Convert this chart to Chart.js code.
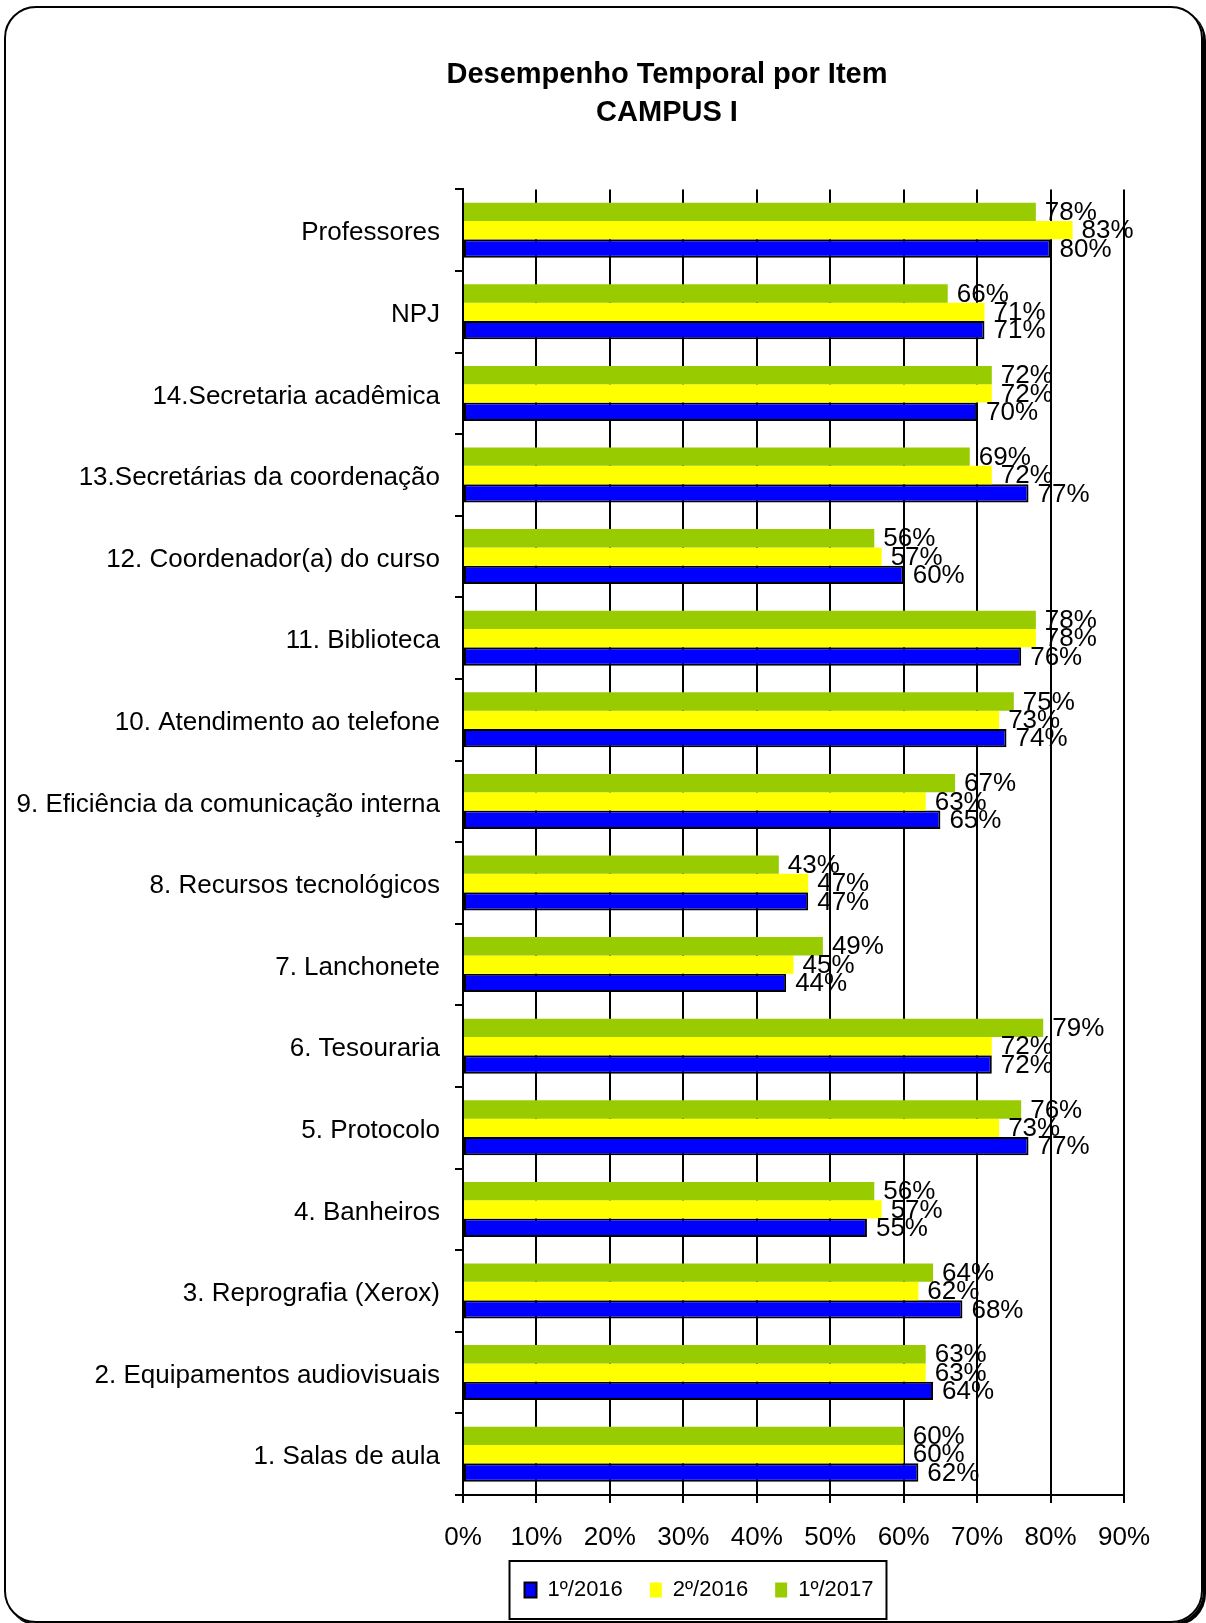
<!doctype html>
<html lang="pt">
<head>
    <meta charset="utf-8">
    <title>Desempenho Temporal por Item - CAMPUS I</title>
    <script src="https://cdn.jsdelivr.net/npm/chart.js"></script>
    <style>
        html, body { margin: 0; padding: 0; background: #fff; overflow: hidden; }
        #wrap { position: relative; width: 1206px; height: 1623px; overflow: hidden; }
        #frame {
            position: absolute; left: 4px; top: 6px; width: 1199px; height: 1617px;
            box-sizing: border-box; border: 2.5px solid #000; border-radius: 32px;
            box-shadow: 3px 3px 0 #000; pointer-events: none;
        }
    </style>
</head>
<body>
    <div id="wrap">
        <!-- canvas is wider than the page so the title sits where Excel put it -->
        <canvas id="chartEl" width="1334" height="1623"></canvas>
        <div id="frame"></div>
    </div>
    <script>
        // categories, top to bottom
        const items = [
            'Professores',
            'NPJ',
            '14.Secretaria acadêmica',
            '13.Secretárias da coordenação',
            '12. Coordenador(a) do curso',
            '11. Biblioteca',
            '10. Atendimento ao telefone',
            '9. Eficiência da comunicação interna',
            '8. Recursos tecnológicos',
            '7. Lanchonete',
            '6. Tesouraria',
            '5. Protocolo',
            '4. Banheiros',
            '3. Reprografia (Xerox)',
            '2. Equipamentos audiovisuais',
            '1. Salas de aula'
        ];

        // values in %
        const sem1_2016 = [80, 71, 70, 77, 60, 76, 74, 65, 47, 44, 72, 77, 55, 68, 64, 62];
        const sem2_2016 = [83, 71, 72, 72, 57, 78, 73, 63, 47, 45, 72, 73, 57, 62, 63, 60];
        const sem1_2017 = [78, 66, 72, 69, 56, 78, 75, 67, 43, 49, 79, 76, 56, 64, 63, 60];

        const xTicks = [0, 10, 20, 30, 40, 50, 60, 70, 80, 90];

        const FONT = "'Liberation Sans', Arial, sans-serif";
        Chart.defaults.color = '#000';
        Chart.defaults.font.family = FONT;

        // value labels at the end of each bar
        const barLabels = {
            id: 'barLabels',
            afterDatasetsDraw(chart) {
                const ctx = chart.ctx;
                ctx.save();
                ctx.font = '26px ' + FONT;
                ctx.fillStyle = '#000';
                ctx.textAlign = 'left';
                ctx.textBaseline = 'middle';
                chart.data.datasets.forEach((ds, i) => {
                    chart.getDatasetMeta(i).data.forEach((bar, j) => {
                        ctx.fillText(ds.data[j] + '%', bar.x + 9, bar.y + 1);
                    });
                });
                ctx.restore();
            }
        };

        // move the legend a bit right and draw its frame
        const legendFrame = {
            id: 'legendFrame',
            afterLayout(chart) {
                chart.legend.left += 32;
                chart.legend.right += 32;
            },
            afterDraw(chart) {
                const boxes = chart.legend.legendHitBoxes;
                if (!boxes || !boxes.length) return;
                const left = Math.min(...boxes.map(b => b.left)) - 15;
                const right = Math.max(...boxes.map(b => b.left + b.width)) + 13;
                const cy = boxes[0].top + boxes[0].height / 2;
                const ctx = chart.ctx;
                ctx.save();
                ctx.strokeStyle = '#000';
                ctx.lineWidth = 2;
                ctx.strokeRect(left, cy - 29, right - left, 58);
                ctx.restore();
            }
        };

        const data = {
            labels: items,
            datasets: [
                { label: '1º/2017', data: sem1_2017, backgroundColor: '#99CC00', borderWidth: 0, yAxisID: 'y' },
                { label: '2º/2016', data: sem2_2016, backgroundColor: '#FFFF00', borderWidth: 0, yAxisID: 'y' },
                { label: '1º/2016', data: sem1_2016, backgroundColor: '#0000FF', borderColor: '#000', borderWidth: 2, borderSkipped: false, yAxisID: 'y' }
            ]
        };

        const config = {
            type: 'bar',
            data: data,
            options: {
                indexAxis: 'y',
                responsive: false,
                animation: false,
                categoryPercentage: 0.674,
                barPercentage: 1,
                layout: { padding: { left: 0, right: 0, top: 0, bottom: 12 } },
                scales: {
                    x: {
                        type: 'linear',
                        min: 0,
                        max: 90,
                        afterBuildTicks: (scale) => { scale.ticks = xTicks.map(v => ({ value: v })); },
                        grid: { color: '#000', lineWidth: 2, tickLength: 8, drawTicks: true },
                        border: { display: true, color: '#000', width: 2 },
                        ticks: { padding: 19, font: { size: 26 }, callback: (v) => v + '%' },
                        afterFit: (scale) => { scale.height = 57; }
                    },
                    y: {
                        type: 'category',
                        position: 'left',
                        grid: { drawOnChartArea: false, drawTicks: true, tickLength: 8, color: '#000', lineWidth: 2 },
                        border: { display: true, color: '#000', width: 2 },
                        ticks: { padding: 15, labelOffset: 3, font: { size: 26 }, autoSkip: false },
                        afterFit: (scale) => { scale.width = 463; }
                    },
                    y2: {
                        type: 'linear',
                        position: 'right',
                        grid: { display: false },
                        border: { display: false },
                        ticks: { display: false },
                        afterFit: (scale) => { scale.width = 210; }
                    }
                },
                plugins: {
                    title: {
                        display: true,
                        text: ['Desempenho Temporal por Item', 'CAMPUS I'],
                        color: '#000',
                        font: { size: 29, weight: 'bold', lineHeight: 1.3 },
                        padding: { top: 56, bottom: 58 }
                    },
                    legend: {
                        position: 'bottom',
                        reverse: true,
                        labels: { boxWidth: 12, boxHeight: 15, padding: 27, font: { size: 22 }, color: '#000' }
                    },
                    tooltip: { enabled: false }
                }
            },
            plugins: [barLabels, legendFrame]
        };

        const myChart = new Chart(document.getElementById('chartEl'), config);
    </script>
</body>
</html>
